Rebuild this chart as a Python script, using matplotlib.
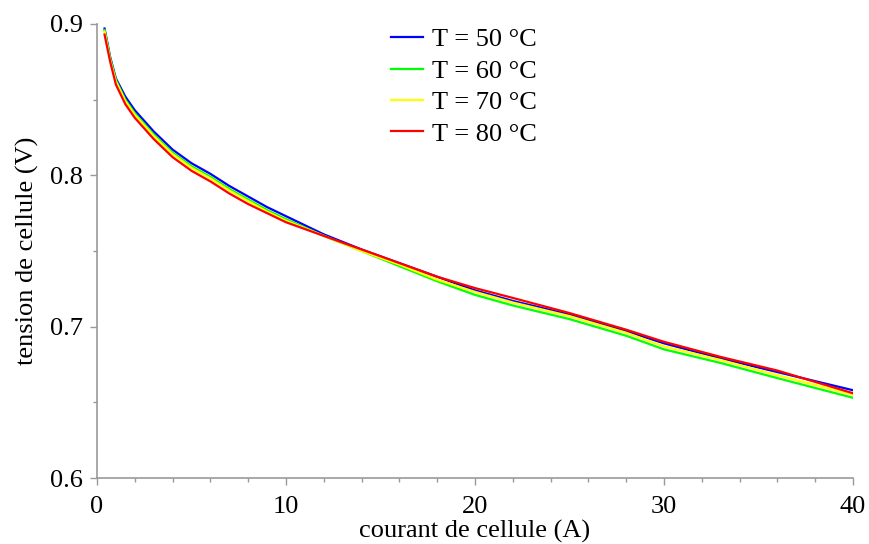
import numpy as np
import matplotlib
matplotlib.use('Agg')
import matplotlib.pyplot as plt
from matplotlib.ticker import MultipleLocator

plt.rcParams['font.family'] = ['Liberation Serif', 'DejaVu Serif']

# courant de cellule (A)
courant = [0.4, 0.7, 1, 1.5, 2, 2.5, 3, 4, 5, 6, 7, 8, 9, 10, 12, 14, 16, 18,
           20, 22, 25, 28, 30, 33, 36, 40]

# tension de cellule (V) for each temperature
v_50 = [0.897, 0.878, 0.864, 0.852, 0.843, 0.836, 0.829, 0.817, 0.808, 0.801,
        0.793, 0.786, 0.779, 0.773, 0.761, 0.751, 0.742, 0.733, 0.724, 0.717,
        0.708, 0.697, 0.689, 0.679, 0.670, 0.658]
v_60 = [0.896, 0.877, 0.863, 0.850, 0.841, 0.834, 0.827, 0.815, 0.806, 0.799,
        0.791, 0.784, 0.777, 0.771, 0.760, 0.750, 0.740, 0.730, 0.721, 0.714,
        0.705, 0.694, 0.685, 0.676, 0.666, 0.653]
v_70 = [0.895, 0.876, 0.862, 0.849, 0.840, 0.833, 0.826, 0.814, 0.805, 0.798,
        0.790, 0.783, 0.776, 0.770, 0.760, 0.750, 0.741, 0.731, 0.723, 0.716,
        0.707, 0.696, 0.687, 0.678, 0.668, 0.655]
v_80 = [0.893, 0.875, 0.860, 0.847, 0.838, 0.831, 0.824, 0.812, 0.803, 0.796,
        0.788, 0.781, 0.775, 0.769, 0.760, 0.751, 0.742, 0.733, 0.7255, 0.719,
        0.709, 0.698, 0.690, 0.680, 0.671, 0.656]

labels = ['T = 50 °C', 'T = 60 °C', 'T = 70 °C', 'T = 80 °C']
colors = ['#0000ff', '#00ff00', '#ffff00', '#ff0000']

fig = plt.figure(figsize=(8.69, 5.44), dpi=100)
ax = fig.add_axes([0.1116, 0.1213, 0.87, 0.8346])

for v, lab, c in zip([v_50, v_60, v_70, v_80], labels, colors):
    ax.plot(courant, v, color=c, lw=1.6, label=lab)

ax.set_xlim(0, 40)
ax.set_ylim(0.6, 0.9)
ax.xaxis.set_minor_locator(MultipleLocator(2))
ax.yaxis.set_minor_locator(MultipleLocator(0.05))
ax.set_xticks([0, 10, 20, 30, 40])
ax.set_xticklabels(['0', '10', '20', '30', '40'], fontsize=19)
ax.set_yticks([0.6, 0.7, 0.8, 0.9])
ax.set_yticklabels(['0.6', '0.7', '0.8', '0.9'], fontsize=19)

for s in ['top', 'right']:
    ax.spines[s].set_visible(False)
for s in ['left', 'bottom']:
    ax.spines[s].set_color('#999999')
    ax.spines[s].set_linewidth(1.2)
ax.tick_params(which='major', length=5, color='#999999', width=1, pad=5)
ax.tick_params(axis='x', which='major', pad=8)
ax.tick_params(which='minor', length=3, color='#999999', width=1)

ax.set_xlabel('courant de cellule (A)', fontsize=19, labelpad=1)
ax.set_ylabel('tension de cellule (V)', fontsize=19, labelpad=8)

ax.legend(loc='upper left', bbox_to_anchor=(0.438, 0.968),
          bbox_transform=fig.transFigure, frameon=False, fontsize=19,
          handlelength=1.2, handletextpad=0.35, labelspacing=0.3,
          borderaxespad=0)

fig.savefig('out.png', dpi=100)
